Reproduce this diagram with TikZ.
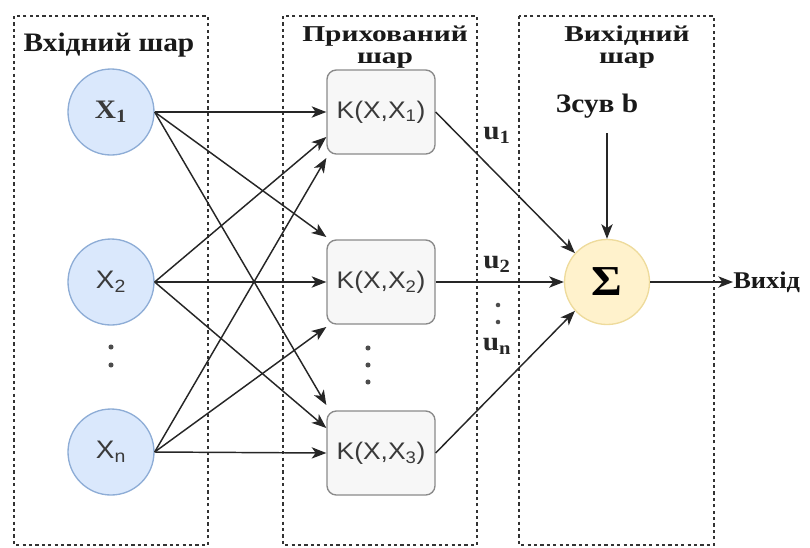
\documentclass[tikz,border=0pt]{standalone}
\usepackage{fontspec}
\setmainfont{Liberation Serif}[FakeStretch=1.1]
\newfontfamily\labelfont{Liberation Sans}[FakeStretch=1.1]
\newfontfamily\wideserif{Liberation Serif}[FakeStretch=1.3]
\usetikzlibrary{arrows.meta,calc}
\definecolor{inFill}{HTML}{DAE8FC}
\definecolor{inLine}{HTML}{8EADD6}
\definecolor{sumFill}{HTML}{FFF2CC}
\definecolor{sumLine}{HTML}{EEDB9C}
\definecolor{kerFill}{HTML}{F7F7F7}
\definecolor{kerLine}{HTML}{8A8A8A}
\definecolor{labGray}{HTML}{3A3A3A}
\begin{document}
\begin{tikzpicture}[x=0.75pt,y=-0.75pt,
  layer/.style={draw=black!80,line width=1.3pt,dash pattern=on 2.4pt off 2.4pt},
  title/.style={font=\fontsize{20}{15.5}\selectfont\bfseries,align=center,inner sep=0pt,text=black!90},
  twotitle/.style={font=\wideserif\fontsize{17}{16}\selectfont\bfseries,align=center,inner sep=0pt,text=black!90},
  innode/.style={circle,draw=inLine,fill=inFill,line width=1pt,minimum size=64.5pt,inner sep=0pt,text=labGray},
  kernel/.style={rectangle,rounded corners=7pt,draw=kerLine,fill=kerFill,line width=1pt,
    minimum width=81pt,minimum height=63pt,inner sep=0pt,text=labGray,font=\labelfont\fontsize{18}{18}\selectfont},
  sumnode/.style={circle,draw=sumLine,fill=sumFill,line width=1pt,minimum size=63.75pt,inner sep=0pt},
  weight/.style={font=\fontsize{20}{20}\selectfont\bfseries,inner sep=0pt,text=black!85},
  arr/.style={-{Stealth[length=11pt,width=8.5pt,inset=3pt]},line width=1.1pt,draw=black!85},
  vdot/.style={fill=black!70}]
  \useasboundingbox (0,0) rectangle (810,547);
  \draw[layer] (14,16) rectangle (208,545);
  \draw[layer] (283,16) rectangle (477,545);
  \draw[layer] (519,16) rectangle (714,545);
  \node[title] (tin) at (109,45) {Вхідний шар};
  \node[twotitle] (thid) at (385,47) {Прихований\\шар};
  \node[twotitle] (tout) at (627,47) {Вихідний\\шар};
  \node[innode,font=\fontsize{20}{20}\selectfont\bfseries] (x1) at (111,112) {X\textsubscript{1}};
  \node[innode,font=\labelfont\fontsize{19}{19}\selectfont] (x2) at (111,282) {X\textsubscript{2}};
  \node[innode,font=\labelfont\fontsize{19}{19}\selectfont] (xn) at (111,452) {X\textsubscript{n}};
  \fill[vdot] (111,347) circle[radius=1.9pt];
  \fill[vdot] (111,365) circle[radius=1.9pt];
  \node[kernel] (k1) at (381,112) {K(X,X\textsubscript{1})};
  \node[kernel] (k2) at (381,282) {K(X,X\textsubscript{2})};
  \node[kernel] (k3) at (381,453) {K(X,X\textsubscript{3})};
  \fill[vdot] (368,348) circle[radius=1.9pt];
  \fill[vdot] (368,365) circle[radius=1.9pt];
  \fill[vdot] (368,382) circle[radius=1.9pt];
  \draw[arr] (x1.east) -- (k1.west);
  \draw[arr] (x1.east) -- ($(k2.west)+(0,-45)$);
  \draw[arr] (x1.east) -- ($(k3.west)+(0,-48)$);
  \draw[arr] (x2.east) -- ($(k1.west)+(0,25)$);
  \draw[arr] (x2.east) -- (k2.west);
  \draw[arr] (x2.east) -- ($(k3.west)+(0,-25)$);
  \draw[arr] (xn.east) -- ($(k1.west)+(0,46)$);
  \draw[arr] (xn.east) -- ($(k2.west)+(0,45)$);
  \draw[arr] (xn.east) -- (k3.west);
  \node[sumnode,font=\fontsize{32}{32}\selectfont\bfseries] (sum) at (607,282) {Σ};
  \draw[arr] (k1.east) -- (sum.138);
  \draw[arr] (k2.east) -- (sum.west);
  \draw[arr] (k3.east) -- (sum.222);
  \node[weight] (u1) at (497,135) {u\textsubscript{1}};
  \node[weight] (u2) at (497,264) {u\textsubscript{2}};
  \node[weight] (un) at (497,346) {u\textsubscript{n}};
  \fill[vdot] (498,305) circle[radius=1.7pt];
  \fill[vdot] (498,322) circle[radius=1.7pt];
  \node[title] (bias) at (597,106) {Зсув b};
  \coordinate (bstart) at (607,133);
  \draw[arr] (bstart) -- (sum.north);
  \node[title,anchor=west,font=\fontsize{18}{18}\selectfont\bfseries] (out) at (733,282) {Вихід};
  \draw[arr] (sum.east) -- (out.west);
\end{tikzpicture}
\end{document}
